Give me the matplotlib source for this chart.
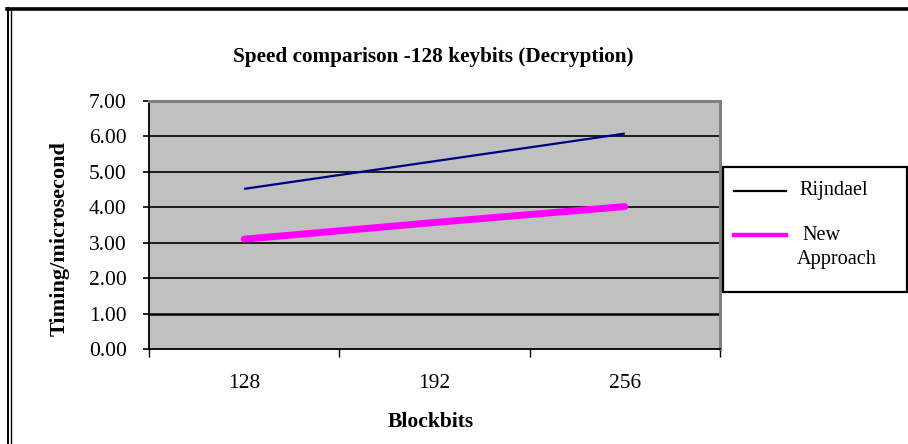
import matplotlib
matplotlib.use('Agg')
import matplotlib.pyplot as plt
from matplotlib.lines import Line2D
from matplotlib.patches import Rectangle
import numpy as np

plt.rcParams['font.family'] = ['Liberation Serif', 'DejaVu Serif']

blockbits = ['128', '192', '256']
rijndael = [4.52, 5.30, 6.08]
new_approach = [3.10, 3.57, 4.02]
yticks = [0, 1, 2, 3, 4, 5, 6, 7]

W, H = 908, 444
fig = plt.figure(figsize=(W / 100, H / 100), dpi=100)
fig.patch.set_facecolor('white')

def px(x, y):
    # pixel position (from top-left) -> figure fraction
    return x / W, 1 - y / H

# plot area in pixels: left 149, right 720, top 101, bottom 349
ax = fig.add_axes([149 / W, 1 - 349 / H, 571 / W, 248 / H])
ax.set_facecolor('#C0C0C0')

x = np.arange(len(blockbits)) + 0.5
ax.set_xlim(0, 3)
ax.set_ylim(0, 7)

for v in yticks[1:-1]:
    ax.axhline(v, color='black', lw=1.8 if v == 1 else 1.2, zorder=1)

ax.plot(x, rijndael, color='#000080', lw=1.6, zorder=3, solid_capstyle='butt')
ax.plot(x, new_approach, color='#FF00FF', lw=5, zorder=3, solid_capstyle='round')

for s in ['top', 'right']:
    ax.spines[s].set_color('#808080')
    ax.spines[s].set_linewidth(2.2)
for s in ['left', 'bottom']:
    ax.spines[s].set_color('black')
    ax.spines[s].set_linewidth(1.3)

ax.set_yticks(yticks)
ax.set_yticklabels(['%.2f' % v for v in yticks], fontsize=15.5)
ax.tick_params(axis='y', length=4, width=1.2, pad=12, color='black')

ax.set_xticks([0, 1, 2, 3])
ax.set_xticklabels([])
ax.tick_params(axis='x', which='major', length=6, width=1, direction='out')
ax.set_xticks(x, minor=True)
ax.set_xticklabels(blockbits, minor=True, fontsize=15.5)
ax.tick_params(axis='x', which='minor', length=0, pad=18)

fig.text(*px(431, 422), 'Blockbits', ha='center', va='center',
         fontsize=15.5, fontweight='bold')
fig.text(*px(60, 239), 'Timing/microsecond', ha='center', va='center',
         rotation=90, fontsize=16, fontweight='bold')
fig.text(*px(433, 57), 'Speed comparison -128 keybits (Decryption)',
         ha='center', va='center', fontsize=15.3, fontweight='bold')

# legend box on the right
fig.add_artist(Rectangle(px(723, 292), 184 / W, 125 / H, transform=fig.transFigure,
                         facecolor='white', edgecolor='black', lw=1.6))
fig.add_artist(Line2D([734 / W, 786 / W], [1 - 191 / H] * 2, color='black', lw=1.6,
                      transform=fig.transFigure))
fig.add_artist(Line2D([734 / W, 786 / W], [1 - 235 / H] * 2, color='#FF00FF', lw=3.2,
                      transform=fig.transFigure))
fig.text(*px(799, 191), 'Rijndael', ha='left', va='center', fontsize=14.6)
fig.text(*px(802, 235), 'New', ha='left', va='center', fontsize=14.6)
fig.text(*px(797, 259), 'Approach', ha='left', va='center', fontsize=14.6)

# outer frame lines
fig.add_artist(Line2D([7 / W, 1], [1 - 9.5 / H] * 2, color='black', lw=2.6,
                      transform=fig.transFigure))
fig.add_artist(Line2D([8 / W, 8 / W], [0, 1 - 8 / H], color='black', lw=1.4,
                      transform=fig.transFigure))
fig.add_artist(Line2D([10.5 / W, 10.5 / W], [0, 1 - 11 / H], color='black', lw=1.0,
                      transform=fig.transFigure))

fig.savefig('out.png', dpi=100)
